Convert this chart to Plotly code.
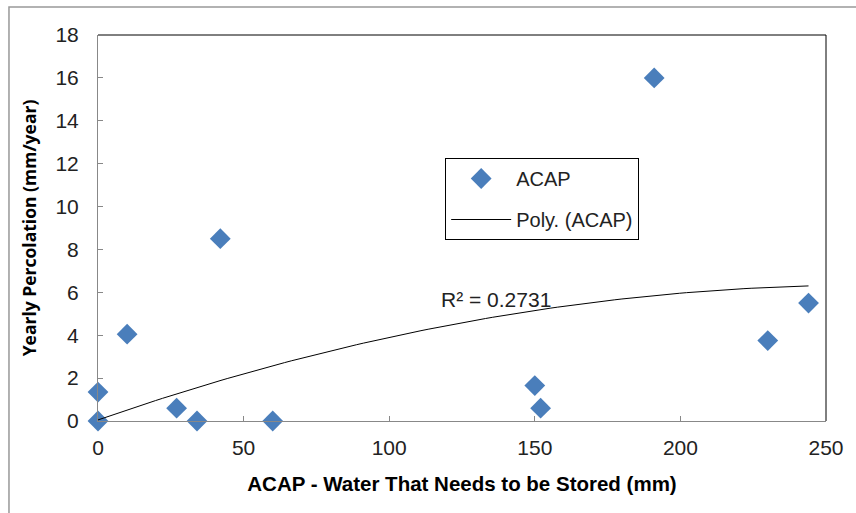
import numpy as np
import plotly.graph_objects as go

x_vals = [0, 0, 10, 27, 34, 42, 60, 150, 152, 191, 230, 244]
y_vals = [0, 1.35, 4.05, 0.6, 0, 8.5, 0, 1.65, 0.6, 16, 3.75, 5.5]
x_ticks = [0, 50, 100, 150, 200, 250]
y_ticks = [0, 2, 4, 6, 8, 10, 12, 14, 16, 18]
# order-2 polynomial trendline coefficients (c0, c1, c2)
trend_coef = [0.05, 0.04745, -8.95e-5]
r2_label = "R² = 0.2731"

xt = np.linspace(0, max(x_vals), 100)
yt = trend_coef[0] + trend_coef[1] * xt + trend_coef[2] * xt ** 2

W, H = 856, 513
L, R, T, B = 98, 22, 35, 92
FONT = "Liberation Sans, Arial, sans-serif"

fig = go.Figure()
fig.add_trace(go.Scatter(x=x_vals, y=y_vals, mode="markers", name="ACAP",
                         legendgroup="a",
                         marker=dict(symbol="diamond", size=16, color="#4A7EBB",
                                     line=dict(width=0)), cliponaxis=False))
fig.add_trace(go.Scatter(x=xt, y=yt, mode="lines", name="Poly. (ACAP)",
                         legendgroup="b",
                         line=dict(color="black", width=1)))

pw = W - L - R
ph = H - T - B
def px(v):
    return (v - L) / pw
def py(v):
    return (H - B - v) / ph

fig.update_layout(
    width=W, height=H,
    margin=dict(l=L, r=R, t=T, b=B),
    plot_bgcolor="white", paper_bgcolor="white",
    font=dict(family=FONT, size=20, color="black"),
    showlegend=True,
    legend=dict(x=px(449), y=py(158), xanchor="left", yanchor="top",
                bordercolor="black", borderwidth=1, bgcolor="white",
                font=dict(family=FONT, size=20, color="#222222"),
                itemwidth=60, tracegroupgap=12, entrywidth=190),
    xaxis=dict(range=[0, 250], tickvals=x_ticks, showgrid=False, zeroline=False,
               showline=True, linecolor="#888888", linewidth=1,
               ticks="inside", ticklen=5, tickcolor="#888888",
               ticklabelstandoff=8,
               tickfont=dict(family=FONT, size=21, color="#222222"),
               title=dict(text="<b>ACAP - Water That Needs to be Stored (mm)</b>",
                          font=dict(family=FONT, size=20.5), standoff=18)),
    yaxis=dict(range=[0, 18], tickvals=y_ticks, showgrid=False, zeroline=False,
               showline=True, linecolor="#888888", linewidth=1,
               ticks="inside", ticklen=5, tickcolor="#888888",
               ticklabelstandoff=14,
               tickfont=dict(family=FONT, size=21, color="#222222"),
               title=dict(text="<b>Yearly Percolation (mm/year)</b>",
                          font=dict(family="Open Sans, sans-serif", size=17.5), standoff=14)),
    shapes=[
        dict(type="line", xref="paper", yref="paper", x0=0, x1=1, y0=1, y1=1,
             line=dict(color="black", width=1)),
        dict(type="line", xref="paper", yref="paper", x0=1, x1=1, y0=0, y1=1,
             line=dict(color="black", width=1)),
        dict(type="rect", xref="paper", yref="paper", x0=px(8), x1=px(870),
             y0=py(520), y1=py(7), line=dict(color="#999999", width=1.5)),
    ],
    annotations=[
        dict(x=117, y=5.65, xref="x", yref="y", text=r2_label, showarrow=False,
             xanchor="left", yanchor="middle", font=dict(family=FONT, size=21, color="#222222")),
    ],
)

fig.write_html("out.html")
